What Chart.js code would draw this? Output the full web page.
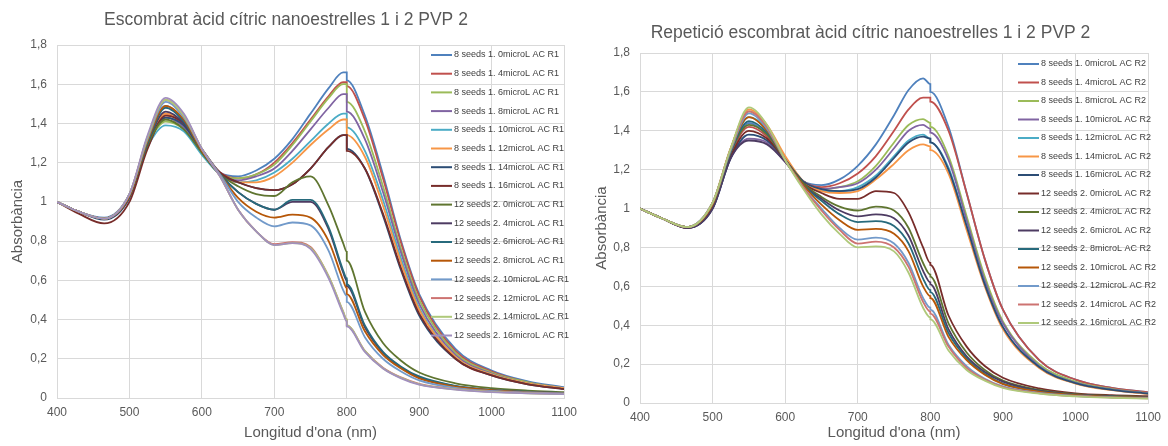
<!DOCTYPE html>
<html>
<head>
<meta charset="utf-8">
<script src="https://cdn.jsdelivr.net/npm/chart.js"></script>
<style>
  body { margin: 0; background: #fff; }
  .box { position: absolute; top: 0; width: 584px; height: 446px; }
</style>
</head>
<body>
<div class="box" style="left:0"><canvas id="chartR1" width="584" height="446"></canvas></div>
<div class="box" style="left:584px"><canvas id="chartR2" width="584" height="446"></canvas></div>
<script>
// wavelengths (nm) - 800 twice because of the detector change step
const wavelengthsR1 = [400, 430, 465, 500, 525, 550, 575, 600, 625, 650, 675, 700, 725, 750, 775, 795, 800, 800, 825, 850, 875, 900, 950, 1000, 1050, 1100];
const wavelengthsR2 = [400, 430, 465, 500, 525, 550, 575, 600, 625, 650, 675, 700, 725, 750, 770, 790, 800, 800, 825, 850, 875, 900, 950, 1000, 1050, 1100];

const yTicks = [0, 0.2, 0.4, 0.6, 0.8, 1, 1.2, 1.4, 1.6, 1.8];

const labelsR1 = [
  "8 seeds 1. 0microL AC R1", "8 seeds 1. 4microL AC R1", "8 seeds 1. 6microL AC R1", "8 seeds 1. 8microL AC R1",
  "8 seeds 1. 10microL AC R1", "8 seeds 1. 12microL AC R1", "8 seeds 1. 14microL AC R1", "8 seeds 1. 16microL AC R1",
  "12 seeds 2. 0microL AC R1", "12 seeds 2. 4microL AC R1", "12 seeds 2. 6microL AC R1", "12 seeds 2. 8microL AC R1",
  "12 seeds 2. 10microL AC R1", "12 seeds 2. 12microL AC R1", "12 seeds 2. 14microL AC R1", "12 seeds 2. 16microL AC R1"
];

const labelsR2 = [
  "8 seeds 1. 0microL AC R2", "8 seeds 1. 4microL AC R2", "8 seeds 1. 8microL AC R2", "8 seeds 1. 10microL AC R2",
  "8 seeds 1. 12microL AC R2", "8 seeds 1. 14microL AC R2", "8 seeds 1. 16microL AC R2",
  "12 seeds 2. 0microL AC R2", "12 seeds 2. 4microL AC R2", "12 seeds 2. 6microL AC R2", "12 seeds 2. 8microL AC R2",
  "12 seeds 2. 10microL AC R2", "12 seeds 2. 12microL AC R2", "12 seeds 2. 14microL AC R2", "12 seeds 2. 16microL AC R2"
];

// absorbance, one row per series, same order as the labels
const absR1 = [
  [1.0, 0.95, 0.92, 1.04, 1.32, 1.49, 1.41, 1.27, 1.15, 1.13, 1.16, 1.22, 1.32, 1.45, 1.58, 1.66, 1.66, 1.62, 1.44, 1.14, 0.8, 0.53, 0.25, 0.14, 0.085, 0.055],
  [1.0, 0.95, 0.915, 1.03, 1.3, 1.45, 1.39, 1.26, 1.15, 1.12, 1.14, 1.2, 1.3, 1.42, 1.54, 1.61, 1.61, 1.59, 1.42, 1.12, 0.79, 0.52, 0.24, 0.135, 0.08, 0.05],
  [1.0, 0.95, 0.915, 1.03, 1.29, 1.41, 1.37, 1.25, 1.14, 1.12, 1.14, 1.19, 1.29, 1.41, 1.53, 1.6, 1.6, 1.51, 1.36, 1.08, 0.76, 0.5, 0.23, 0.13, 0.08, 0.05],
  [1.0, 0.95, 0.915, 1.03, 1.3, 1.43, 1.38, 1.25, 1.14, 1.11, 1.13, 1.17, 1.26, 1.37, 1.48, 1.55, 1.55, 1.46, 1.32, 1.05, 0.74, 0.48, 0.22, 0.125, 0.075, 0.05],
  [1.0, 0.95, 0.915, 1.03, 1.28, 1.39, 1.36, 1.24, 1.14, 1.1, 1.11, 1.15, 1.22, 1.31, 1.4, 1.45, 1.45, 1.38, 1.26, 1.01, 0.71, 0.46, 0.21, 0.12, 0.075, 0.05],
  [1.0, 0.95, 0.915, 1.03, 1.3, 1.45, 1.4, 1.26, 1.14, 1.1, 1.1, 1.13, 1.2, 1.29, 1.37, 1.42, 1.42, 1.34, 1.23, 0.98, 0.69, 0.45, 0.21, 0.12, 0.075, 0.05],
  [1.0, 0.95, 0.91, 1.02, 1.29, 1.43, 1.39, 1.26, 1.14, 1.1, 1.07, 1.06, 1.09, 1.17, 1.28, 1.34, 1.34, 1.27, 1.17, 0.93, 0.65, 0.42, 0.2, 0.115, 0.07, 0.045],
  [1.0, 0.94, 0.89, 1.0, 1.27, 1.44, 1.4, 1.27, 1.15, 1.1, 1.07, 1.06, 1.09, 1.17, 1.28, 1.34, 1.34, 1.26, 1.17, 0.94, 0.66, 0.43, 0.2, 0.115, 0.07, 0.045],
  [1.0, 0.95, 0.915, 1.03, 1.29, 1.42, 1.37, 1.25, 1.14, 1.08, 1.04, 1.03, 1.1, 1.13, 0.98, 0.79, 0.745, 0.7, 0.44, 0.28, 0.19, 0.13, 0.075, 0.05, 0.038, 0.03],
  [1.0, 0.95, 0.915, 1.03, 1.3, 1.46, 1.4, 1.26, 1.14, 1.05, 0.99, 0.96, 1.0, 1.0, 0.86, 0.64, 0.6, 0.57, 0.36, 0.23, 0.155, 0.105, 0.06, 0.04, 0.03, 0.025],
  [1.0, 0.95, 0.915, 1.03, 1.3, 1.48, 1.41, 1.26, 1.14, 1.05, 0.99, 0.96, 1.01, 1.01, 0.87, 0.65, 0.61, 0.58, 0.37, 0.235, 0.16, 0.11, 0.062, 0.042, 0.032, 0.026],
  [1.0, 0.95, 0.915, 1.03, 1.31, 1.49, 1.42, 1.26, 1.14, 1.02, 0.95, 0.92, 0.935, 0.92, 0.8, 0.6, 0.56, 0.53, 0.34, 0.22, 0.15, 0.1, 0.058, 0.04, 0.03, 0.025],
  [1.0, 0.95, 0.915, 1.04, 1.32, 1.51, 1.43, 1.27, 1.14, 1.0, 0.92, 0.875, 0.895, 0.88, 0.75, 0.55, 0.52, 0.49, 0.31, 0.2, 0.135, 0.09, 0.052, 0.036, 0.028, 0.023],
  [1.0, 0.95, 0.915, 1.04, 1.33, 1.52, 1.44, 1.27, 1.13, 0.96, 0.85, 0.785, 0.795, 0.77, 0.62, 0.44, 0.4, 0.37, 0.24, 0.155, 0.105, 0.072, 0.045, 0.032, 0.025, 0.02],
  [1.0, 0.95, 0.915, 1.04, 1.33, 1.52, 1.44, 1.27, 1.13, 0.96, 0.85, 0.78, 0.79, 0.765, 0.62, 0.44, 0.4, 0.37, 0.24, 0.152, 0.103, 0.07, 0.044, 0.031, 0.024, 0.02],
  [1.0, 0.95, 0.915, 1.04, 1.34, 1.53, 1.45, 1.27, 1.13, 0.96, 0.85, 0.78, 0.79, 0.76, 0.61, 0.43, 0.39, 0.365, 0.235, 0.15, 0.1, 0.068, 0.043, 0.03, 0.024, 0.02]
];

const absR2 = [
  [1.0, 0.95, 0.905, 1.02, 1.29, 1.44, 1.38, 1.25, 1.14, 1.12, 1.15, 1.22, 1.33, 1.48, 1.61, 1.67, 1.64, 1.6, 1.42, 1.08, 0.74, 0.48, 0.22, 0.12, 0.078, 0.055],
  [1.0, 0.95, 0.905, 1.02, 1.28, 1.42, 1.37, 1.25, 1.14, 1.11, 1.13, 1.18, 1.27, 1.4, 1.51, 1.57, 1.57, 1.55, 1.4, 1.08, 0.74, 0.48, 0.22, 0.12, 0.078, 0.055],
  [1.0, 0.95, 0.905, 1.03, 1.31, 1.5, 1.42, 1.26, 1.14, 1.1, 1.11, 1.14, 1.22, 1.34, 1.43, 1.46, 1.44, 1.42, 1.27, 0.96, 0.65, 0.42, 0.2, 0.11, 0.072, 0.05],
  [1.0, 0.95, 0.9, 1.0, 1.26, 1.36, 1.34, 1.24, 1.14, 1.1, 1.11, 1.13, 1.2, 1.31, 1.4, 1.43, 1.41, 1.39, 1.25, 0.94, 0.63, 0.41, 0.19, 0.105, 0.07, 0.05],
  [1.0, 0.95, 0.905, 1.03, 1.3, 1.47, 1.41, 1.26, 1.14, 1.09, 1.09, 1.11, 1.17, 1.27, 1.35, 1.38, 1.36, 1.34, 1.21, 0.91, 0.61, 0.39, 0.185, 0.102, 0.068, 0.048],
  [1.0, 0.95, 0.905, 1.03, 1.31, 1.51, 1.43, 1.27, 1.14, 1.09, 1.08, 1.09, 1.15, 1.23, 1.3, 1.33, 1.32, 1.3, 1.18, 0.89, 0.6, 0.38, 0.18, 0.1, 0.066, 0.047],
  [1.0, 0.95, 0.9, 1.0, 1.26, 1.38, 1.35, 1.25, 1.14, 1.1, 1.09, 1.1, 1.16, 1.26, 1.34, 1.37, 1.36, 1.34, 1.2, 0.91, 0.61, 0.39, 0.185, 0.102, 0.068, 0.048],
  [1.0, 0.95, 0.9, 1.01, 1.27, 1.4, 1.36, 1.25, 1.13, 1.08, 1.05, 1.05, 1.09, 1.08, 0.98, 0.8, 0.72, 0.71, 0.45, 0.29, 0.19, 0.13, 0.075, 0.05, 0.04, 0.035],
  [1.0, 0.95, 0.905, 1.02, 1.29, 1.43, 1.38, 1.25, 1.13, 1.06, 1.01, 0.99, 1.01, 0.99, 0.9, 0.72, 0.66, 0.65, 0.41, 0.26, 0.17, 0.115, 0.067, 0.045, 0.036, 0.031],
  [1.0, 0.95, 0.9, 1.0, 1.26, 1.35, 1.33, 1.24, 1.12, 1.05, 0.99, 0.96, 0.97, 0.95, 0.86, 0.68, 0.62, 0.61, 0.38, 0.24, 0.16, 0.11, 0.063, 0.043, 0.034, 0.03],
  [1.0, 0.95, 0.905, 1.02, 1.29, 1.45, 1.39, 1.25, 1.12, 1.04, 0.97, 0.93, 0.935, 0.91, 0.82, 0.64, 0.58, 0.57, 0.36, 0.23, 0.15, 0.1, 0.06, 0.041, 0.033, 0.028],
  [1.0, 0.95, 0.905, 1.02, 1.3, 1.47, 1.4, 1.25, 1.12, 1.02, 0.94, 0.89, 0.895, 0.87, 0.78, 0.6, 0.55, 0.54, 0.34, 0.22, 0.145, 0.097, 0.058, 0.04, 0.032, 0.027],
  [1.0, 0.95, 0.905, 1.03, 1.3, 1.49, 1.41, 1.25, 1.11, 1.0, 0.9, 0.84, 0.85, 0.82, 0.72, 0.54, 0.49, 0.48, 0.3, 0.19, 0.125, 0.085, 0.052, 0.036, 0.029, 0.025],
  [1.0, 0.95, 0.905, 1.03, 1.31, 1.5, 1.42, 1.25, 1.11, 0.99, 0.89, 0.82, 0.83, 0.8, 0.7, 0.52, 0.47, 0.46, 0.29, 0.18, 0.12, 0.082, 0.05, 0.035, 0.028, 0.024],
  [1.0, 0.95, 0.905, 1.03, 1.31, 1.52, 1.43, 1.25, 1.1, 0.97, 0.87, 0.8, 0.805, 0.78, 0.67, 0.49, 0.44, 0.43, 0.27, 0.17, 0.115, 0.078, 0.048, 0.034, 0.027, 0.023]
];

// office palette, in series order
const colours = [
  "#4F81BD", "#C0504D", "#9BBB59", "#8064A2", "#4BACC6", "#F79646",
  "#2C4D75", "#772C2A", "#5F7530", "#4D3B62", "#276A7C", "#B65708",
  "#729ACA", "#CD7371", "#AFC97A", "#A18FBE"
];

Chart.defaults.font.family = '"Liberation Sans", Arial, sans-serif';
Chart.defaults.color = "#595959";

// legend drawn inside the plot, like excel does
const insideLegend = {
  id: "insideLegend",
  afterDatasetsDraw(chart, args, opts) {
    const ctx = chart.ctx;
    ctx.save();
    ctx.font = '9px "Liberation Sans", Arial, sans-serif';
    ctx.textBaseline = "middle";
    chart.data.datasets.forEach((ds, i) => {
      const y = opts.y + i * opts.step;
      ctx.strokeStyle = ds.borderColor;
      ctx.lineWidth = 2;
      ctx.beginPath();
      ctx.moveTo(opts.x, y);
      ctx.lineTo(opts.x + 21, y);
      ctx.stroke();
      ctx.fillStyle = "#404040";
      ctx.fillText(ds.label, opts.x + 23, y);
    });
    ctx.restore();
  }
};

function makeChart(id, title, wl, labels, values, lay) {
  const datasets = labels.map((lab, i) => ({
    label: lab,
    data: wl.map((w, k) => ({ x: w, y: values[i][k] })),
    borderColor: colours[i],
    backgroundColor: colours[i],
    borderWidth: 1.8,
    pointRadius: 0,
    cubicInterpolationMode: "monotone",
    order: -i
  }));

  return new Chart(document.getElementById(id), {
    type: "line",
    data: { datasets: datasets },
    plugins: [insideLegend],
    options: {
      responsive: false,
      animation: false,
      layout: { padding: { left: 0, right: lay.right, top: 0, bottom: 0 } },
      plugins: {
        legend: { display: false },
        tooltip: { enabled: false },
        title: {
          display: true,
          text: title,
          color: "#595959",
          font: { size: 17.5, weight: "normal" },
          padding: { top: lay.titleTop, bottom: lay.titleBottom }
        },
        insideLegend: lay.legend
      },
      scales: {
        x: {
          type: "linear",
          min: 400,
          max: 1100,
          ticks: { stepSize: 100, font: { size: 12 }, padding: 7, color: "#595959", callback: v => String(v) },
          grid: { color: "#d9d9d9", drawTicks: false },
          border: { color: "#d9d9d9" },
          title: { display: true, text: "Longitud d'ona (nm)", font: { size: 15 }, color: "#595959" },
          afterFit(scale) { scale.height = lay.xHeight; }
        },
        y: {
          min: 0,
          max: 1.8,
          afterBuildTicks(scale) { scale.ticks = yTicks.map(v => ({ value: v })); },
          ticks: {
            font: { size: 12 },
            padding: 10,
            color: "#595959",
            callback: v => String(Number(v.toFixed(1))).replace(".", ",")
          },
          grid: { color: "#d9d9d9", drawTicks: false },
          border: { color: "#d9d9d9" },
          title: { display: true, text: "Absorbància", font: { size: 15 }, color: "#595959", padding: { top: 9, bottom: 4 } },
          afterFit(scale) { scale.width = lay.yWidth; }
        }
      }
    }
  });
}

makeChart("chartR1", "Escombrat àcid cítric nanoestrelles 1 i 2 PVP 2", wavelengthsR1, labelsR1, absR1, {
  right: 12, titleTop: 9.5, titleBottom: 14.5, xHeight: 48, yWidth: 57,
  legend: { x: 431, y: 55, step: 18.7 }
});

makeChart("chartR2", "Repetició escombrat àcid cítric nanoestrelles 1 i 2 PVP 2", wavelengthsR2, labelsR2, absR2, {
  right: 11, titleTop: 22.5, titleBottom: 9.5, xHeight: 43, yWidth: 56,
  legend: { x: 434, y: 64, step: 18.5 }
});
</script>
</body>
</html>
